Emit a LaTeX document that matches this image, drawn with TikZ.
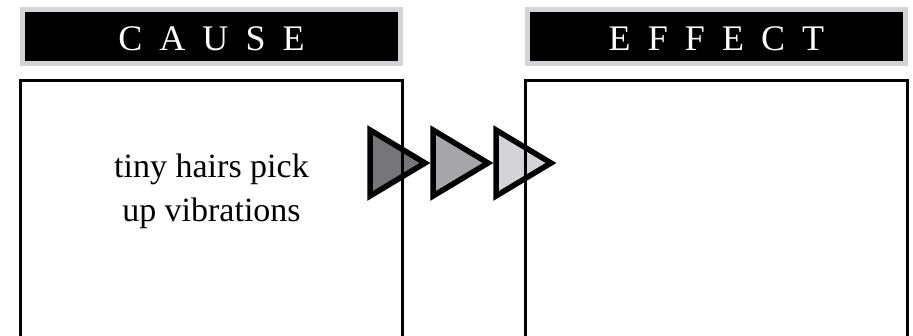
\documentclass[tikz,border=0pt]{standalone}
\usepackage{fontspec}
\setmainfont{Liberation Serif}
\newfontfamily\headfont[WordSpace=1.9]{Liberation Serif}
\usetikzlibrary{positioning}
\definecolor{framegray}{RGB}{212,212,214}
\definecolor{tridark}{RGB}{118,118,120}
\definecolor{trimid}{RGB}{166,166,168}
\definecolor{trilight}{RGB}{212,212,214}

\begin{document}
\begin{tikzpicture}[
    x=1pt, y=-1pt,
    head/.style={fill=black, draw=framegray, line width=5pt, minimum width=378pt,
                 minimum height=54pt, inner sep=0pt, text=white, text height=29pt,
                 font=\headfont\fontsize{36}{36}\selectfont},
    panel/.style={minimum width=382pt, minimum height=256pt, inner sep=0pt, outer sep=0pt},
    side/.style={line width=2.5pt},
    tri/.style={draw=black, line width=5.5pt, line join=miter},
]
\useasboundingbox (0,0) rectangle (913,336);

\node[head] (causehead) at (211.5,36.5) {C A U S E};
\node[head, right=122pt of causehead] (effecthead) {E F F E C T};
\node[panel, below=14.5pt of causehead] (cause) {};
\node[panel, below=14.5pt of effecthead] (effect) {};

\node[font=\fontsize{34}{44}\selectfont, align=center, anchor=base] (causetext)
    at (211.5,222) {tiny hairs pick\\up vibrations};

% three arrow heads between the panels
\foreach \i/\c in {0/tridark, 1/trimid, 2/trilight}
    \draw[tri, fill=\c] (370+63*\i,130) -- ++(55,33) -- ++(-55,33) -- cycle;

\draw[side] (cause.south west) -- (cause.north west) -- (cause.north east) -- (cause.south east);
\draw[side] (effect.south west) -- (effect.north west) -- (effect.north east) -- (effect.south east);
\end{tikzpicture}
\end{document}
